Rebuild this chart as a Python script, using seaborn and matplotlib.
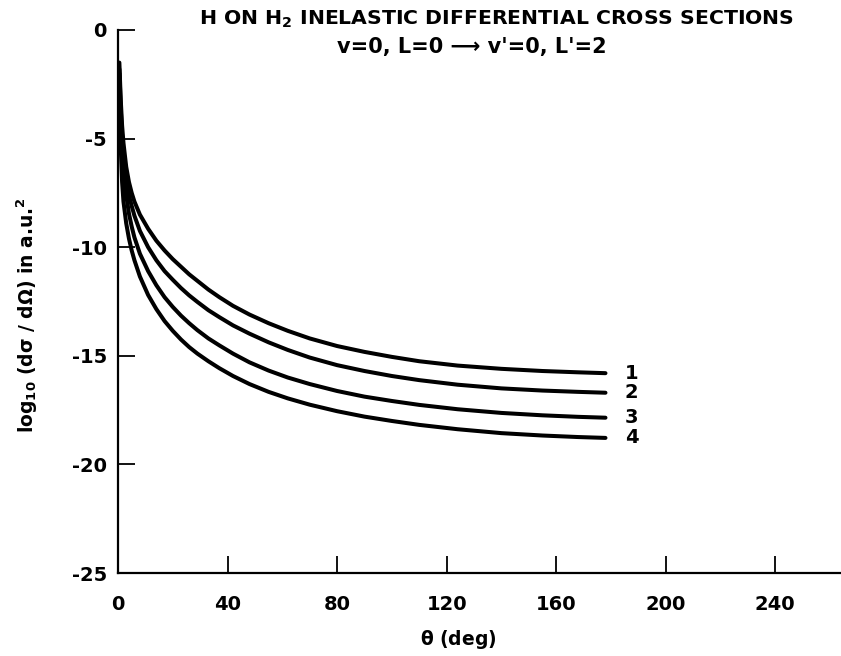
import matplotlib
matplotlib.use("Agg")
import matplotlib.pyplot as plt
import seaborn as sns
import pandas as pd

theta = [0.5, 1, 1.5, 2, 3, 4, 5, 6, 8, 11, 14, 17, 20, 23, 26, 29, 33, 37, 42,
         48, 55, 62, 70, 80, 90, 100, 110, 124, 140, 155, 168, 178]

curve1 = [-1.5, -3.2, -4.4, -5.2, -6.3, -7.0, -7.5, -7.9, -8.5, -9.15, -9.7, -10.15,
          -10.55, -10.9, -11.25, -11.55, -11.95, -12.3, -12.7, -13.1, -13.5, -13.85,
          -14.2, -14.55, -14.82, -15.05, -15.25, -15.45, -15.6, -15.7, -15.76, -15.8]
curve2 = [-1.8, -3.6, -4.9, -5.8, -6.9, -7.6, -8.1, -8.55, -9.25, -10.0, -10.6, -11.1,
          -11.5, -11.88, -12.22, -12.52, -12.9, -13.22, -13.6, -13.98, -14.38, -14.73,
          -15.08, -15.43, -15.7, -15.93, -16.12, -16.33, -16.5, -16.6, -16.66, -16.7]
curve3 = [-2.0, -4.1, -5.5, -6.4, -7.6, -8.45, -9.05, -9.55, -10.3, -11.1, -11.75, -12.3,
          -12.75, -13.15, -13.5, -13.82, -14.2, -14.52, -14.9, -15.3, -15.68, -16.0,
          -16.3, -16.62, -16.88, -17.08, -17.26, -17.46, -17.63, -17.74, -17.81, -17.85]
curve4 = [-2.5, -5.4, -7.0, -7.9, -8.9, -9.6, -10.15, -10.6, -11.35, -12.2, -12.85, -13.4,
          -13.85, -14.25, -14.6, -14.9, -15.25, -15.57, -15.93, -16.3, -16.66, -16.96,
          -17.25, -17.55, -17.8, -18.0, -18.18, -18.38, -18.56, -18.67, -18.74, -18.78]

curve_names = ["1", "2", "3", "4"]
x_ticks = [0, 40, 80, 120, 160, 200, 240]
y_ticks = [0, -5, -10, -15, -20, -25]

title_line1 = r"H ON H$_{\mathbf{2}}$ INELASTIC DIFFERENTIAL CROSS SECTIONS"
title_line2 = "v=0, L=0 \u27f6 v'=0, L'=2"
x_label = r"$\theta$ (deg)"
y_label = r"log$_{\mathbf{10}}$ (d$\sigma$ / d$\Omega$) in a.u.$^{\mathbf{2}}$"

rows = []
for name, vals in zip(curve_names, [curve1, curve2, curve3, curve4]):
    for t, v in zip(theta, vals):
        rows.append({"theta": t, "value": v, "curve": name})
df = pd.DataFrame(rows)

sns.set_theme(style="ticks")
plt.rcParams["font.family"] = ["DejaVu Sans"]
plt.rcParams["axes.unicode_minus"] = False
plt.rcParams["mathtext.default"] = "bf"

fig = plt.figure(figsize=(8.41, 6.56), dpi=100)
ax = fig.add_axes([0.1403, 0.1265, 0.8597, 0.8278])

sns.lineplot(data=df, x="theta", y="value", hue="curve",
             palette=["black"] * 4, legend=False, linewidth=2.9,
             sort=False, ax=ax)
for line in ax.get_lines():
    line.set_solid_joinstyle("round")
    line.set_solid_capstyle("round")

for name, vals in zip(curve_names, [curve1, curve2, curve3, curve4]):
    ax.text(theta[-1] + 9.5, vals[-1], name, ha="center", va="center",
            fontsize=14, fontweight="bold", color="black")

ax.set_xlim(0, 264)
ax.set_ylim(-25, 0)
ax.set_xticks(x_ticks)
ax.set_yticks(y_ticks)
ax.set_xticklabels([str(t) for t in x_ticks])
ax.set_yticklabels([str(t) for t in y_ticks])

sns.despine(ax=ax, top=True, right=True)
for s in ["left", "bottom"]:
    ax.spines[s].set_linewidth(1.6)
    ax.spines[s].set_color("black")

ax.tick_params(axis="both", direction="in", length=12, width=1.3, color="black",
               labelsize=14, labelcolor="black")
ax.tick_params(axis="y", pad=8)
ax.tick_params(axis="x", pad=16)
for lab in ax.get_xticklabels() + ax.get_yticklabels():
    lab.set_fontweight("bold")

ax.set_xlabel(x_label, fontsize=13.5, fontweight="bold", color="black")
ax.set_ylabel(y_label, fontsize=13.5, fontweight="bold", color="black")
ax.xaxis.set_label_coords(0.47, -0.101)
ax.yaxis.set_label_coords(-0.108, 0.475)

fig.text(497 / 841, 1 - 19 / 656, title_line1, ha="center", va="center",
         fontsize=14.7, fontweight="bold", color="black")
fig.text(472 / 841, 1 - 47 / 656, title_line2, ha="center", va="center",
         fontsize=15, fontweight="bold", color="black")

fig.savefig("out.png", dpi=100)
